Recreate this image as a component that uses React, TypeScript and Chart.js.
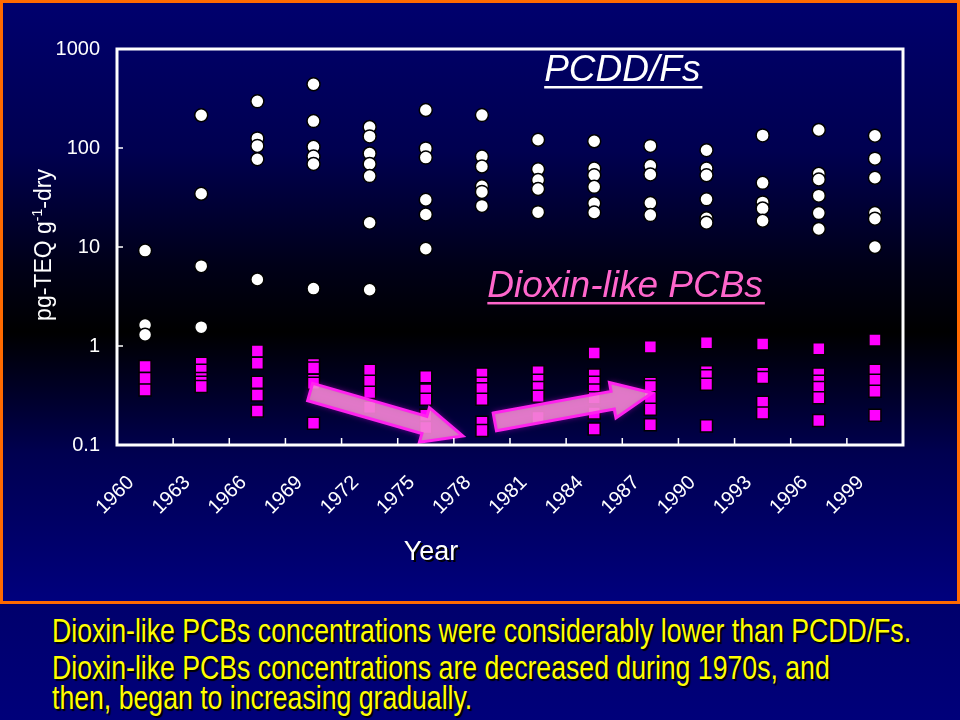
import React, { useEffect, useRef } from 'react';
import { Chart, registerables } from 'chart.js';

Chart.register(...registerables);

const FONT = "'Liberation Sans', Arial, Helvetica, sans-serif";

const categories = ['1960', '1963', '1966', '1969', '1972', '1975', '1978', '1981', '1984', '1987', '1990', '1993', '1996', '1999'];

// PCDD/Fs (white circles), one list per sampling column
const pcddValues: number[][] = [
  [9.2, 1.63, 1.3],
  [214, 34.5, 6.4, 1.55],
  [296, 125, 105, 77, 4.7],
  [440, 187, 103, 82, 69, 3.8],
  [163, 131, 88, 69, 52, 17.6, 3.7],
  [242, 99, 80, 30, 21.3, 9.6],
  [215, 82, 65, 41, 36, 26],
  [121, 61, 47.5, 38.5, 22.5],
  [117, 62, 53, 40.5, 27.6, 22.3],
  [105, 66, 54, 27.8, 21],
  [95, 62, 53, 30.3, 19.5, 17.6],
  [134, 44.5, 28.2, 24.5, 18.4],
  [152, 55, 48, 33, 22, 15.2],
  [133, 78, 50, 22, 19.3, 10],
];

// Dioxin-like PCBs (magenta squares)
const pcbValues: number[][] = [
  [0.62, 0.47, 0.36],
  [0.67, 0.57, 0.47, 0.43, 0.39],
  [0.89, 0.67, 0.43, 0.32, 0.22],
  [0.65, 0.6, 0.45, 0.42, 0.166],
  [0.57, 0.44, 0.34, 0.24],
  [0.49, 0.36, 0.29, 0.2, 0.15],
  [0.52, 0.42, 0.37, 0.29, 0.17, 0.14],
  [0.55, 0.45, 0.38, 0.31, 0.19],
  [0.85, 0.51, 0.43, 0.36, 0.3, 0.21, 0.145],
  [0.98, 0.42, 0.39, 0.3, 0.23, 0.16],
  [1.08, 0.55, 0.5, 0.41, 0.156],
  [1.05, 0.53, 0.48, 0.27, 0.21],
  [0.94, 0.52, 0.44, 0.38, 0.3, 0.177],
  [1.15, 0.57, 0.45, 0.35, 0.2],
];

const yTickValues = [0.1, 1, 10, 100, 1000];

// Trend arrows in data terms: [category index, value]
const decreaseArrow = { from: [2.94, 0.343], to: [5.66, 0.123] };
const increaseArrow = { from: [6.23, 0.171], to: [9.03, 0.335] };

// Series labels placed in data terms
const pcddLabel = { text: 'PCDD/Fs', index: 8.5, value: 475 };
const pcbLabel = { text: 'Dioxin-like PCBs', index: 8.55, value: 3.13 };

const bottomLines = [
  'Dioxin-like PCBs concentrations were considerably lower than PCDD/Fs.',
  'Dioxin-like PCBs concentrations are decreased during 1970s, and',
  'then, began to increasing gradually.',
];

const toPoints = (lists: number[][]) =>
  categories.flatMap((c, i) => lists[i].map((v) => ({ x: c, y: v })));

function drawArrow(ctx: CanvasRenderingContext2D, x1: number, y1: number, x2: number, y2: number) {
  const ang = Math.atan2(y2 - y1, x2 - x1);
  const len = Math.hypot(x2 - x1, y2 - y1);
  const sw = 9, hw = 18, hl = 40;
  ctx.save();
  ctx.translate(x1, y1);
  ctx.rotate(ang);
  ctx.beginPath();
  ctx.moveTo(0, -sw);
  ctx.lineTo(len - hl, -sw);
  ctx.lineTo(len - hl, -hw);
  ctx.lineTo(len, 0);
  ctx.lineTo(len - hl, hw);
  ctx.lineTo(len - hl, sw);
  ctx.lineTo(0, sw);
  ctx.closePath();
  ctx.shadowColor = 'rgba(255,0,255,0.8)';
  ctx.shadowBlur = 6;
  ctx.fillStyle = 'rgba(240,150,205,0.8)';
  ctx.fill();
  ctx.shadowBlur = 0;
  ctx.lineWidth = 3;
  ctx.lineJoin = 'miter';
  ctx.strokeStyle = '#ff22ee';
  ctx.stroke();
  ctx.restore();
}

const decorPlugin = {
  id: 'decor',
  afterDatasetsDraw(chart: any) {
    const { ctx, scales } = chart;
    const xs = scales.x, ys = scales.y;
    [decreaseArrow, increaseArrow].forEach((a) => {
      drawArrow(
        ctx,
        xs.getPixelForValue(a.from[0]), ys.getPixelForValue(a.from[1]),
        xs.getPixelForValue(a.to[0]), ys.getPixelForValue(a.to[1])
      );
    });
  },
  afterDraw(chart: any) {
    const { ctx, chartArea, scales } = chart;
    const xs = scales.x, ys = scales.y;
    const { left, right, top, bottom } = chartArea;
    ctx.save();
    // frame
    ctx.strokeStyle = '#ffffff';
    ctx.lineWidth = 3;
    ctx.strokeRect(left, top, right - left, bottom - top);
    // inner tick marks
    ctx.lineWidth = 1.5;
    ctx.beginPath();
    yTickValues.slice(1, -1).forEach((v) => {
      const y = ys.getPixelForValue(v);
      ctx.moveTo(left, y);
      ctx.lineTo(left + 6, y);
    });
    for (let i = 1; i < categories.length; i++) {
      const x = xs.getPixelForValue(i - 0.5);
      ctx.moveTo(x, bottom);
      ctx.lineTo(x, bottom - 7);
    }
    ctx.stroke();

    // y-axis title with superscript
    ctx.save();
    ctx.translate(left - 66, (top + bottom) / 2 - 2);
    ctx.rotate(-Math.PI / 2);
    ctx.fillStyle = '#ffffff';
    ctx.textBaseline = 'alphabetic';
    ctx.textAlign = 'left';
    const parts = [
      { t: 'pg-TEQ g', f: `23px ${FONT}`, dy: 0 },
      { t: '-1', f: `14px ${FONT}`, dy: -9 },
      { t: '-dry', f: `23px ${FONT}`, dy: 0 },
    ];
    let total = 0;
    parts.forEach((p) => { ctx.font = p.f; total += ctx.measureText(p.t).width; });
    let px = -total / 2;
    parts.forEach((p) => { ctx.font = p.f; ctx.fillText(p.t, px, p.dy); px += ctx.measureText(p.t).width; });
    ctx.restore();

    // x-axis title with shadow
    ctx.save();
    ctx.font = `27px ${FONT}`;
    ctx.textAlign = 'center';
    ctx.textBaseline = 'alphabetic';
    ctx.fillStyle = '#000000';
    ctx.fillText('Year', 433, 562);
    ctx.fillStyle = '#ffffff';
    ctx.fillText('Year', 431, 560);
    ctx.restore();

    // series labels
    const drawLabel = (lab: { text: string; index: number; value: number }, color: string) => {
      const x = xs.getPixelForValue(lab.index);
      const y = ys.getPixelForValue(lab.value);
      ctx.font = `italic 37px ${FONT}`;
      ctx.textAlign = 'center';
      ctx.textBaseline = 'alphabetic';
      ctx.fillStyle = color;
      ctx.fillText(lab.text, x, y);
      const w = ctx.measureText(lab.text).width;
      ctx.fillRect(x - w / 2, y + 5, w + 2, 2.5);
    };
    drawLabel(pcddLabel, '#ffffff');
    drawLabel(pcbLabel, '#ff66cc');
    ctx.restore();
  },
};

export default function App() {
  const ref = useRef<HTMLCanvasElement | null>(null);

  useEffect(() => {
    document.body.style.margin = '0';
    const canvas = ref.current;
    if (!canvas) return;
    const chart = new Chart(canvas, {
      type: 'line',
      data: {
        labels: categories,
        datasets: [
          {
            label: 'Dioxin-like PCBs',
            data: toPoints(pcbValues) as any,
            showLine: false,
            pointStyle: 'rect',
            pointRadius: 8.5,
            pointBackgroundColor: '#ff00ff',
            pointBorderColor: '#000000',
            pointBorderWidth: 1.5,
          },
          {
            label: 'PCDD/Fs',
            data: toPoints(pcddValues) as any,
            showLine: false,
            pointStyle: 'circle',
            pointRadius: 6.5,
            pointBackgroundColor: '#ffffff',
            pointBorderColor: '#000000',
            pointBorderWidth: 1.5,
          },
        ],
      },
      options: {
        responsive: false,
        animation: false,
        events: [],
        layout: { padding: { top: 49, right: 57, left: 0, bottom: 0 } },
        plugins: { legend: { display: false }, tooltip: { enabled: false } },
        scales: {
          x: {
            type: 'category',
            offset: true,
            grid: { display: false, drawTicks: false },
            border: { display: false },
            ticks: {
              color: '#ffffff',
              font: { size: 20, family: FONT },
              minRotation: 45,
              maxRotation: 45,
              autoSkip: false,
              padding: 26,
              labelOffset: -14,
            },
            afterFit: (s: any) => { s.height = 159; },
          },
          y: {
            type: 'logarithmic',
            min: 0.1,
            max: 1000,
            grid: { display: false, drawTicks: false },
            border: { display: false },
            ticks: {
              color: '#ffffff',
              font: { size: 20, family: FONT },
              padding: 17,
              callback: (v: any) => String(v),
            },
            afterBuildTicks: (s: any) => { s.ticks = yTickValues.map((value) => ({ value })); },
            afterFit: (s: any) => { s.width = 117; },
          },
        },
      },
      plugins: [decorPlugin],
    });
    return () => chart.destroy();
  }, []);

  const lineTops = [615, 652, 682];

  return (
    <div
      style={{
        position: 'absolute', left: 0, top: 0, width: 960, height: 720, overflow: 'hidden',
        background: 'linear-gradient(to bottom, #00002c 0%, #000050 50%, #00007a 100%)',
      }}
    >
      <div
        style={{
          position: 'absolute', left: 0, top: 0, width: 960, height: 604,
          background: 'linear-gradient(to bottom, #00006e 0%, #000050 25%, #000018 44%, #000000 55%, #000050 75%, #00007e 100%)',
        }}
      >
        <canvas ref={ref} width={960} height={604} style={{ display: 'block' }} />
      </div>
      <div
        style={{
          position: 'absolute', left: 0, top: 0, width: 960, height: 604,
          border: '3px solid #ff6a00', boxSizing: 'border-box', pointerEvents: 'none',
        }}
      />
      {bottomLines.map((t, i) => (
        <div
          key={i}
          style={{
            position: 'absolute', left: 52, top: lineTops[i], whiteSpace: 'nowrap',
            fontFamily: FONT, fontSize: '32.5px', lineHeight: 1, color: '#ffff00',
            textShadow: '2px 2px 1px #000000', transform: 'scaleX(0.82)', transformOrigin: 'left top',
          }}
        >
          {t}
        </div>
      ))}
    </div>
  );
}
